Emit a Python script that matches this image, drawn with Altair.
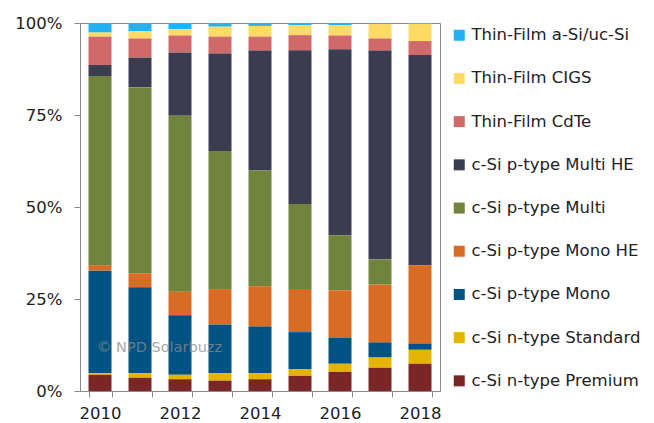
import altair as alt
import pandas as pd

years = [2010, 2011, 2012, 2013, 2014, 2015, 2016, 2017, 2018]
series = ["Thin-Film a-Si/uc-Si", "Thin-Film CIGS", "Thin-Film CdTe",
          "c-Si p-type Multi HE", "c-Si p-type Multi", "c-Si p-type Mono HE",
          "c-Si p-type Mono", "c-Si n-type Standard", "c-Si n-type Premium"]
colors = ["#22B1F2", "#FFDA65", "#D06A6A", "#3C3C50", "#70843D",
          "#D96C24", "#005282", "#E4B400", "#7B2626"]

a_si = [2.6, 2.2, 1.7, 1.0, 0.8, 0.6, 0.6, 0.3, 0.2]
cigs = [1.1, 2.0, 1.7, 2.7, 2.9, 2.7, 2.8, 3.9, 4.7]
cdte = [7.7, 5.2, 4.6, 4.6, 3.8, 4.1, 3.7, 3.3, 3.8]
multi_he = [3.0, 8.1, 17.2, 26.5, 32.6, 41.8, 50.6, 56.8, 57.1]
multi = [51.4, 50.5, 47.8, 37.5, 31.4, 23.1, 14.9, 6.8, 0.0]
mono_he = [1.5, 3.8, 6.4, 9.6, 11.0, 11.7, 13.0, 15.7, 21.4]
mono = [27.9, 23.4, 16.2, 13.3, 12.7, 10.1, 7.0, 4.1, 1.6]
standard = [0.4, 1.2, 1.2, 2.0, 1.6, 1.8, 2.2, 2.8, 3.8]
premium = [4.4, 3.6, 3.2, 2.8, 3.2, 4.1, 5.2, 6.3, 7.4]

watermark = ["© NPD Solarbuzz"]

values = [a_si, cigs, cdte, multi_he, multi, mono_he, mono, standard, premium]
rows = []
for si, (name, vals) in enumerate(zip(series, values)):
    for y, v in zip(years, vals):
        rows.append({"year": y, "series": name, "value": v, "order": len(series) - si})
df = pd.DataFrame(rows)

FONT = "DejaVu Sans"
TXT = "#222222"

bars = alt.Chart(df).mark_bar().encode(
    x=alt.X("year:O",
            scale=alt.Scale(paddingInner=0.425, paddingOuter=0.2125),
            axis=alt.Axis(title=None, labelAngle=0, tickBand="extent",
                          labelExpr="toNumber(datum.value) % 2 == 0 ? datum.label : ''",
                          domainColor="#888888", tickColor="#888888", tickSize=6,
                          labelFontSize=16.5, labelColor=TXT, labelFont=FONT,
                          labelPadding=8)),
    y=alt.Y("value:Q", stack="normalize",
            scale=alt.Scale(domain=[0, 1], nice=False),
            axis=alt.Axis(title=None, format=".0%", values=[0, 0.25, 0.5, 0.75, 1],
                          grid=False, domainColor="#888888", tickColor="#888888",
                          tickSize=6, labelFontSize=16.5, labelColor=TXT,
                          labelFont=FONT, labelPadding=12)),
    color=alt.Color("series:N",
                    scale=alt.Scale(domain=series, range=colors),
                    legend=alt.Legend(title=None, orient="none", legendX=371, legendY=4,
                                      symbolType="square", symbolSize=121,
                                      symbolStrokeWidth=0, labelFontSize=16.5,
                                      labelFont=FONT, labelColor=TXT, labelLimit=300,
                                      rowPadding=26.2, labelOffset=4)),
    order=alt.Order("order:Q", sort="ascending"),
)

wm = alt.Chart(pd.DataFrame({"t": watermark})).mark_text(
    align="left", baseline="middle", fontSize=14.5, font=FONT,
    color="#8c8c8c", opacity=0.75
).encode(text="t:N", x=alt.value(17), y=alt.value(325))

chart = alt.layer(bars, wm).properties(
    width=360, height=368,
    autosize=alt.AutoSizeParams(type="none"),
    padding={"left": 72, "top": 15, "right": 206, "bottom": 40},
).configure_view(stroke="#888888", strokeWidth=1)

chart.save("out.html", embed_options={"renderer": "svg", "actions": False})
